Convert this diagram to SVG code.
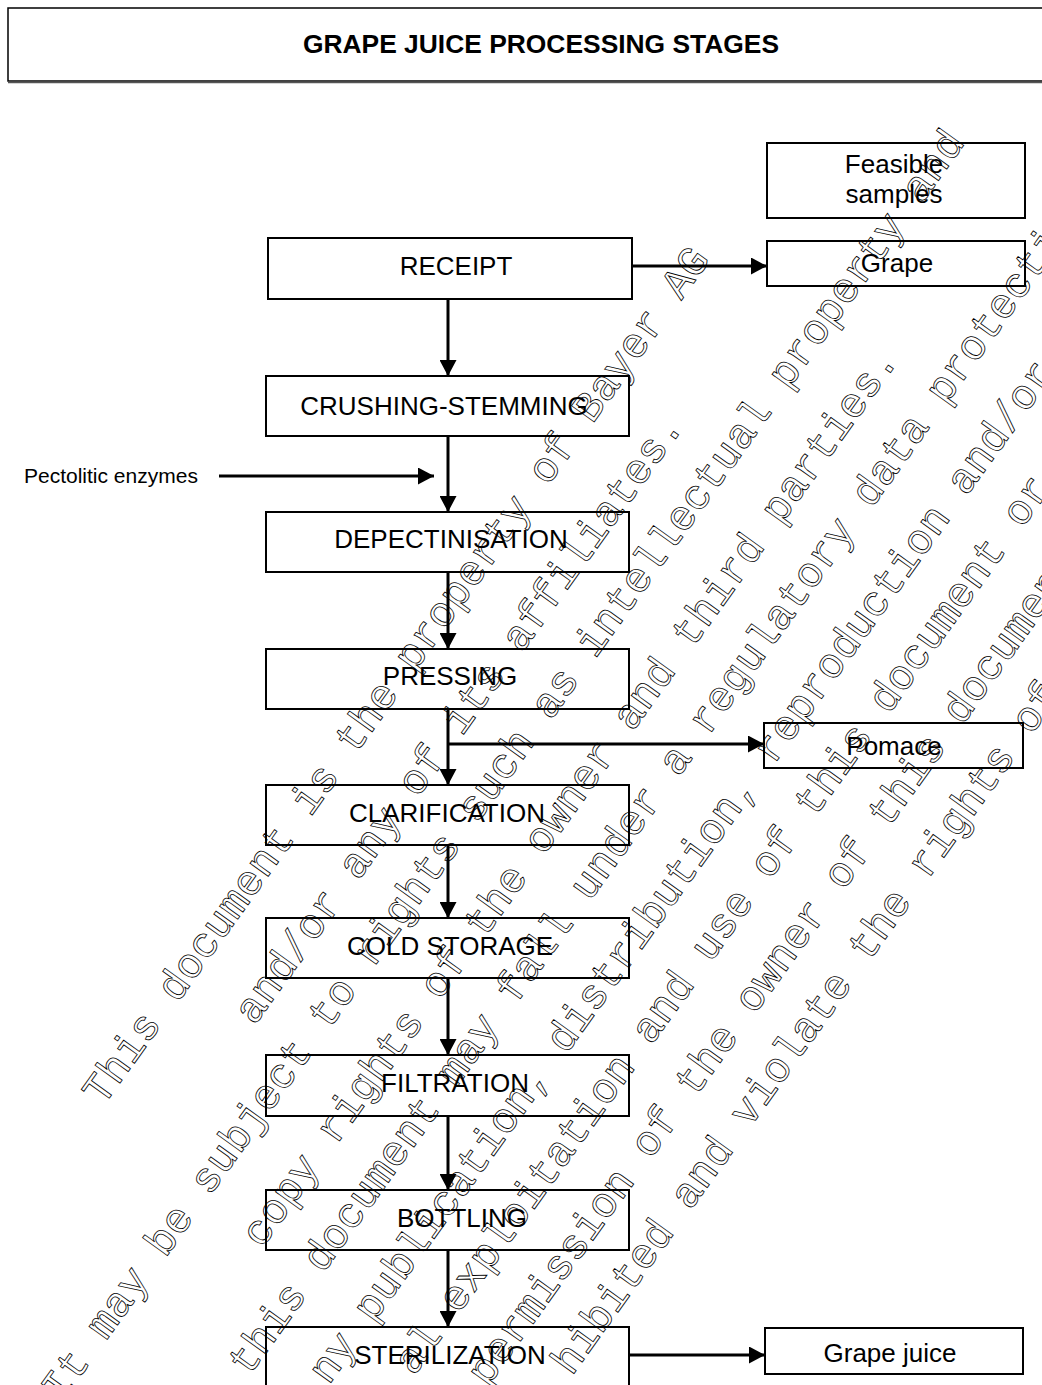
<svg xmlns="http://www.w3.org/2000/svg" width="1042" height="1385" viewBox="0 0 1042 1385">
<style>
.box{fill:#fff;stroke:#000;stroke-width:2}
.lbl{font-family:"Liberation Sans",Arial,sans-serif;font-size:26px;fill:#000;text-anchor:middle}
.con{stroke:#000;stroke-width:3;fill:none}
.wm{font-family:"Liberation Mono","Courier New",monospace;font-size:42.4px;fill:none;stroke:#000;stroke-width:0.8}
</style>
<defs>
<marker id="ah" markerUnits="userSpaceOnUse" markerWidth="17" markerHeight="17" refX="16" refY="8.5" orient="auto">
<path d="M0,0 L16,8.5 L0,17 Z" fill="#000"/>
</marker>
</defs>
<rect x="0" y="0" width="1042" height="1385" fill="#fff"/>
<g id="title">
<rect x="8" y="8" width="1040" height="73" fill="#fff" stroke="#000" stroke-width="1.5"/>
<line x1="8" y1="82.5" x2="1042" y2="82.5" stroke="#555" stroke-width="1.5"/>
<text x="541" y="53" style="font-family:'Liberation Sans',Arial,sans-serif;font-size:26.4px;font-weight:bold;text-anchor:middle">GRAPE JUICE PROCESSING STAGES</text>
</g>
<g id="feasible">
<rect class="box" x="767" y="143" width="258" height="75"/>
<text class="lbl" x="894" y="173">Feasible</text>
<text class="lbl" x="894" y="203">samples</text>
</g>
<g id="receipt">
<rect class="box" x="268" y="238" width="364" height="61"/>
<text class="lbl" x="456" y="275">RECEIPT</text>
</g>
<g id="grape">
<rect class="box" x="767" y="241" width="258" height="45"/>
<text class="lbl" x="897" y="272">Grape</text>
</g>
<g id="crushing">
<rect class="box" x="266" y="376" width="363" height="60"/>
<text class="lbl" x="444" y="415">CRUSHING-STEMMING</text>
</g>
<g id="enzymes">
<text x="24" y="483" style="font-family:'Liberation Sans',Arial,sans-serif;font-size:21px">Pectolitic enzymes</text>
</g>
<g id="depectinisation">
<rect class="box" x="266" y="512" width="363" height="60"/>
<text class="lbl" x="451" y="548">DEPECTINISATION</text>
</g>
<g id="pressing">
<rect class="box" x="266" y="649" width="363" height="60"/>
<text class="lbl" x="450" y="685">PRESSING</text>
</g>
<g id="pomace">
<rect class="box" x="764" y="723" width="259" height="45"/>
<text class="lbl" x="894" y="755">Pomace</text>
</g>
<g id="clarification">
<rect class="box" x="266" y="785" width="363" height="60"/>
<text class="lbl" x="447" y="822">CLARIFICATION</text>
</g>
<g id="coldstorage">
<rect class="box" x="266" y="918" width="363" height="60"/>
<text class="lbl" x="450" y="955">COLD STORAGE</text>
</g>
<g id="filtration">
<rect class="box" x="266" y="1055" width="363" height="61"/>
<text class="lbl" x="455" y="1092">FILTRATION</text>
</g>
<g id="bottling">
<rect class="box" x="266" y="1190" width="363" height="60"/>
<text class="lbl" x="462" y="1227">BOTTLING</text>
</g>
<g id="sterilization">
<rect class="box" x="266" y="1327" width="363" height="70"/>
<text class="lbl" x="450" y="1364">STERILIZATION</text>
</g>
<g id="grapejuice">
<rect class="box" x="765" y="1328" width="258" height="46"/>
<text class="lbl" x="890" y="1362">Grape juice</text>
</g>
<g id="connectors">
<line class="con" x1="632" y1="266" x2="767" y2="266" marker-end="url(#ah)"/>
<line class="con" x1="448" y1="299" x2="448" y2="376" marker-end="url(#ah)"/>
<line class="con" x1="219" y1="476" x2="434" y2="476" marker-end="url(#ah)"/>
<line class="con" x1="448" y1="436" x2="448" y2="512" marker-end="url(#ah)"/>
<line class="con" x1="448" y1="572" x2="448" y2="649" marker-end="url(#ah)"/>
<line class="con" x1="448" y1="709" x2="448" y2="785" marker-end="url(#ah)"/>
<line class="con" x1="448" y1="744" x2="764" y2="744" marker-end="url(#ah)"/>
<line class="con" x1="448" y1="845" x2="448" y2="918" marker-end="url(#ah)"/>
<line class="con" x1="448" y1="978" x2="448" y2="1055" marker-end="url(#ah)"/>
<line class="con" x1="448" y1="1116" x2="448" y2="1190" marker-end="url(#ah)"/>
<line class="con" x1="448" y1="1250" x2="448" y2="1327" marker-end="url(#ah)"/>
<line class="con" x1="629" y1="1355" x2="765" y2="1355" marker-end="url(#ah)"/>
</g>
<g id="watermark" class="wm" transform="translate(103 1107) rotate(-54.35)">
<text x="0" y="0">This document is the property of Bayer AG</text>
<text x="154" y="76">and/or any of its affiliates.</text>
<text x="-265" y="139">It may be subject to rights such as intellectual property and</text>
<text x="-23" y="212">copy rights of the owner and third parties.</text>
<text x="-135" y="276">this document may fall under a regulatory data protection</text>
<text x="-95" y="346">ny publication, distribution, reproduction and/or</text>
<text x="-38" y="410">al exploitation and use of this document or</text>
<text x="-4" y="476">permission of the owner of this document</text>
<text x="54" y="538">hibited and violate the rights of</text>
</g>
</svg>
